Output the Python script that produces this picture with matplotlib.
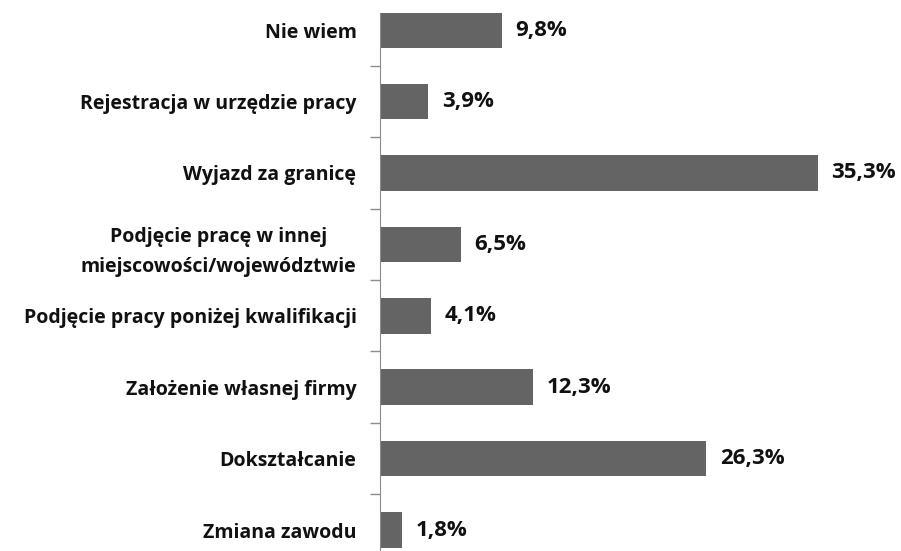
import matplotlib
matplotlib.use("Agg")
import matplotlib.pyplot as plt

# categories from top to bottom, as in the reference
categories = [
    "Nie wiem",
    "Rejestracja w urzędzie pracy",
    "Wyjazd za granicę",
    "Podjęcie pracę w innej\nmiejscowości/województwie",
    "Podjęcie pracy poniżej kwalifikacji",
    "Założenie własnej firmy",
    "Dokształcanie",
    "Zmiana zawodu",
]
values = [9.8, 3.9, 35.3, 6.5, 4.1, 12.3, 26.3, 1.8]

plt.rcParams["font.family"] = ["Open Sans", "DejaVu Sans"]

fig = plt.figure(figsize=(9.01, 5.51), dpi=100)
ax = fig.add_axes([380 / 901, 0.0, 521 / 901, (551 - 13) / 551])

n = len(categories)
pos = list(range(n - 1, -1, -1))
ax.barh(pos, values, height=0.5, color="#646464")

for p, v in zip(pos, values):
    ax.text(v + 1.1, p, f"{v:.1f}%".replace(".", ","), va="center", ha="left",
            fontsize=16, fontweight="bold", color="#111111")

ax.set_xlim(0, 42.0)
ax.set_ylim(-0.294, 7.24)

ax.set_yticks(pos)
ax.set_yticklabels(categories, fontsize=14, fontweight="bold",
                   multialignment="center", linespacing=1.7, color="#111111")
ax.set_yticks([i + 0.5 for i in range(n - 1)], minor=True)
ax.tick_params(axis="y", which="major", length=0, pad=17)
ax.tick_params(axis="y", which="minor", length=7, color="#8c8c8c", width=1)
ax.set_xticks([])

for s in ["top", "right", "bottom"]:
    ax.spines[s].set_visible(False)
ax.spines["left"].set_color("#8c8c8c")

fig.savefig("out.png", dpi=100)
